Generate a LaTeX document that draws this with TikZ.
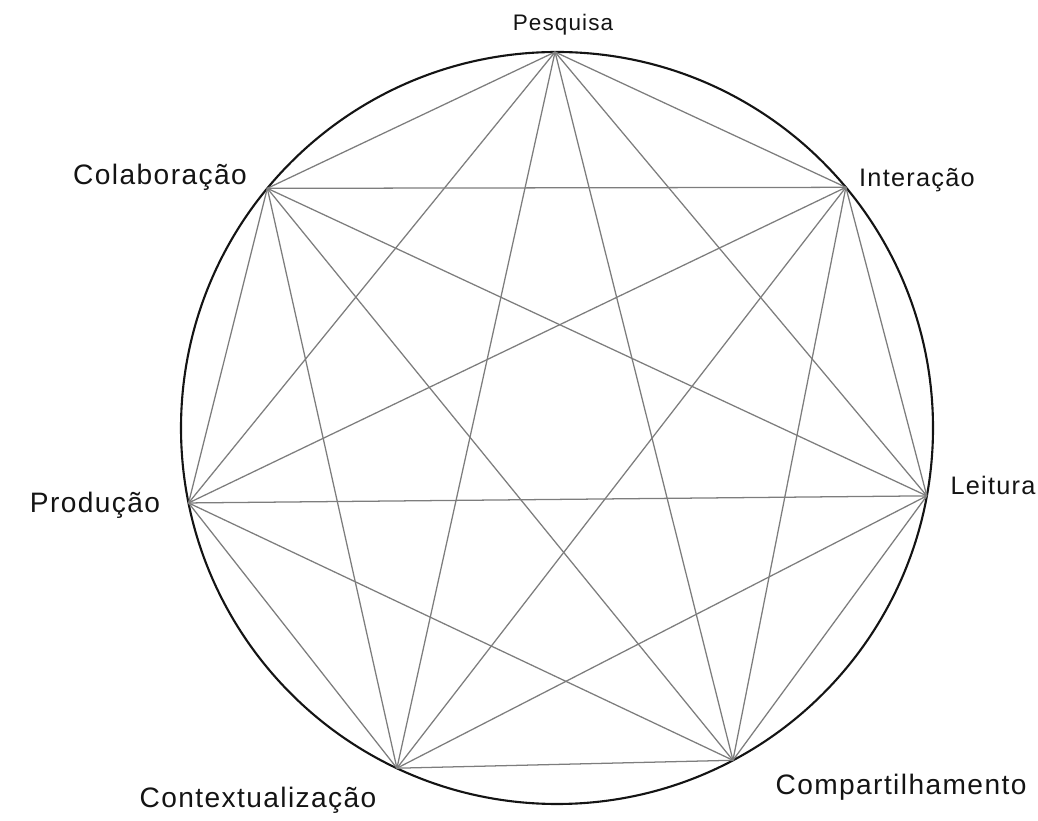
\documentclass[tikz,border=0pt]{standalone}
\usepackage{fontspec}
\setmainfont[LetterSpace=5]{Liberation Sans}
\usetikzlibrary{calc}
\definecolor{MapaInk}{RGB}{20,20,20}
\definecolor{MapaGray}{RGB}{125,125,125}
\tikzset{
  mapa/ring/.style={draw=MapaInk, line width=1.5pt},
  mapa/chord/.style={draw=MapaGray, line width=0.9pt},
  mapa/label/.style={text=MapaInk, inner sep=0pt, align=center}
}

\begin{document}
\begin{tikzpicture}[x=0.025cm,y=0.025cm]
  \useasboundingbox (0,0) rectangle (1038,821);
  \coordinate (c) at (557,393);
  \draw[mapa/ring] (c) circle[radius=376];
  % vertices on the ring
  \foreach \ang [count=\i] in {90.3,39.8,-10.4,-62.1,-115.2,-168.5,140.4}
    {\coordinate (v\i) at ($(c)+(\ang:376)$);}
  % every pair joined
  \foreach \i in {1,...,6}{
    \pgfmathtruncatemacro\k{\i+1}
    \foreach \j in {\k,...,7}
      {\draw[mapa/chord] (v\i) -- (v\j);}
  }
  \foreach \name/\txt/\x/\y/\sz in {
    pesq/Pesquisa/563/796/16,inter/Interação/917/641/18,leit/Leitura/993/336/18,
    comp/Compartilhamento/901/34/20,cont/Contextualização/258/21/20,
    prod/Produção/95/316/20,colab/Colaboração/160/644/20}
  {\node[mapa/label,font=\fontsize{\sz}{\sz}\selectfont] (\name) at (\x,\y) {\txt};}
\end{tikzpicture}
\end{document}
